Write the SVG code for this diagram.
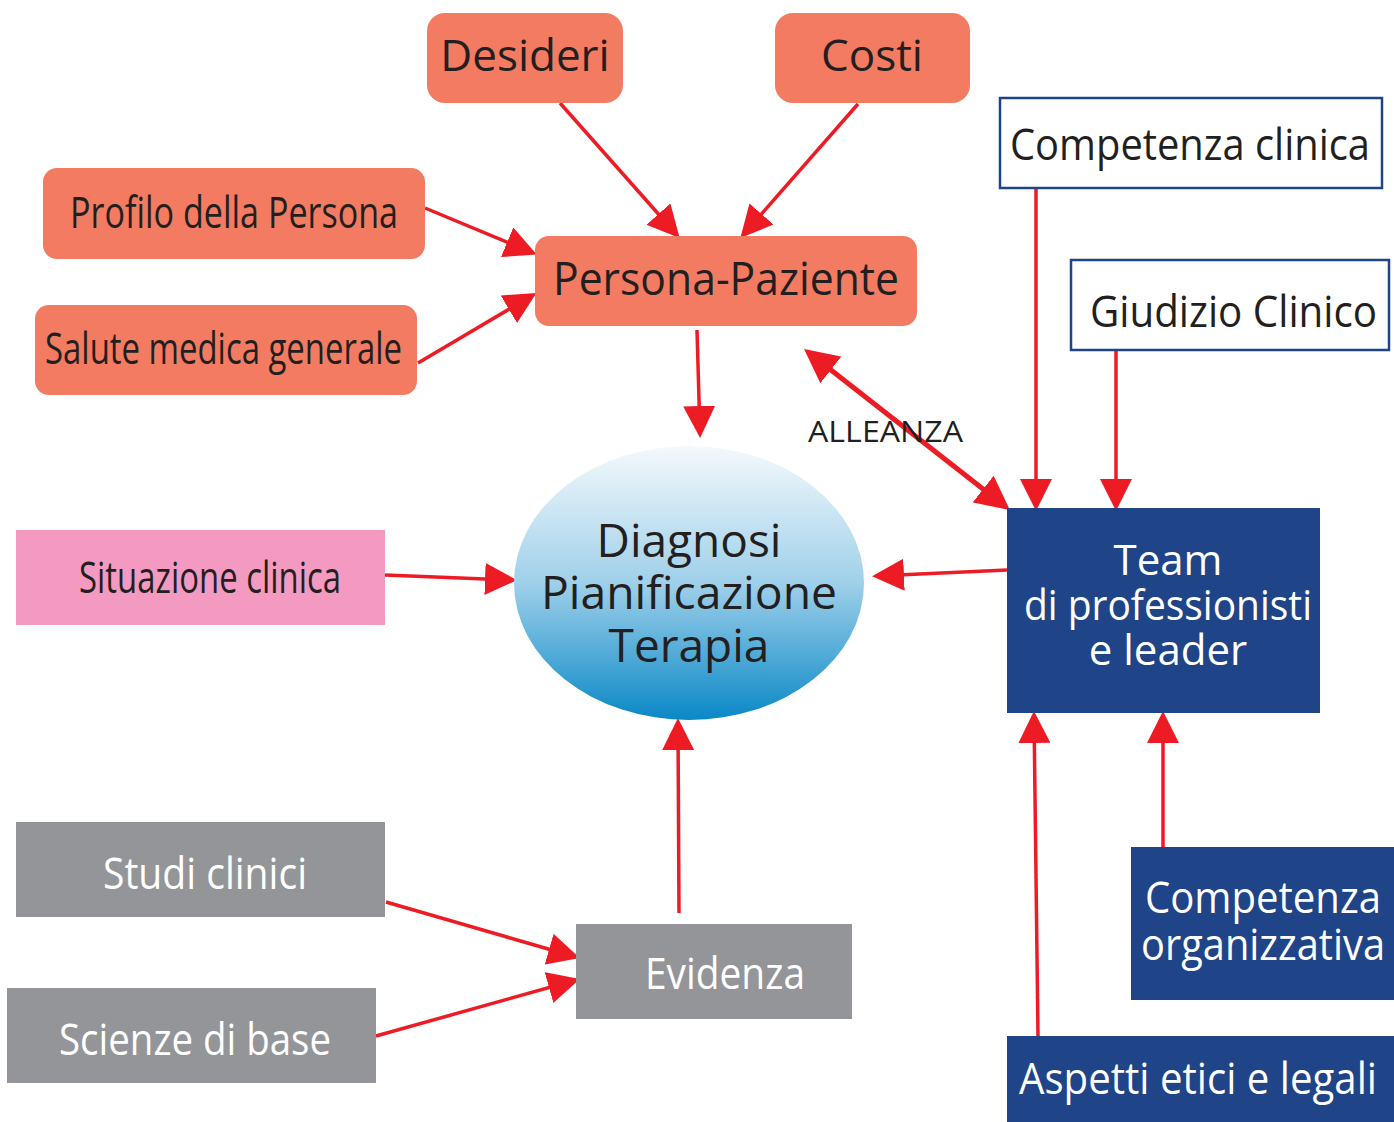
<svg xmlns="http://www.w3.org/2000/svg" width="1394" height="1122" viewBox="0 0 1394 1122">
<defs>
<linearGradient id="eg" x1="0" y1="0" x2="0" y2="1">
<stop offset="0" stop-color="#f4f9fc"/>
<stop offset="0.5" stop-color="#9fd0ea"/>
<stop offset="1" stop-color="#0a88c6"/>
</linearGradient>
<marker id="ah" markerUnits="userSpaceOnUse" markerWidth="32" markerHeight="32" refX="28" refY="16" orient="auto" viewBox="0 0 32 32">
<path d="M0,0 L32,16 L0,32 z" fill="#ed1c24"/>
</marker>
<marker id="ah2" markerUnits="userSpaceOnUse" markerWidth="34" markerHeight="34" refX="29" refY="17" orient="auto-start-reverse" viewBox="0 0 34 34">
<path d="M0,0 L34,17 L0,34 z" fill="#ed1c24"/>
</marker>
<style>
.or{fill:#f27b61}
.gr{fill:#939598}
.bl{fill:#1f4488}
.wb{fill:#fff;stroke:#1f4488;stroke-width:2.5}
.t{font-family:"Open Sans","Noto Sans",sans-serif;fill:#231f20}
.tw{font-family:"Open Sans","Noto Sans",sans-serif;fill:#fff}
.c{stroke:#ed1c24;stroke-width:3.5;fill:none;marker-end:url(#ah)}
</style>
</defs>

<g id="connectors">
<line class="c" x1="560" y1="103" x2="677" y2="235"/>
<line class="c" x1="858" y1="104" x2="743" y2="235"/>
<line class="c" x1="425" y1="208" x2="533" y2="253"/>
<line class="c" x1="418" y1="363" x2="533" y2="295"/>
<line class="c" x1="697" y1="330" x2="700" y2="434"/>
<line x1="808" y1="352" x2="1006" y2="507" stroke="#ed1c24" stroke-width="5" marker-start="url(#ah2)" marker-end="url(#ah2)"/>
<line class="c" x1="385" y1="575" x2="513" y2="580"/>
<line class="c" x1="1007" y1="570" x2="876" y2="576"/>
<line class="c" x1="1036" y1="188" x2="1036" y2="507"/>
<line class="c" x1="1116" y1="350" x2="1116" y2="507"/>
<line class="c" x1="1038" y1="1036" x2="1034" y2="715"/>
<line class="c" x1="1163" y1="847" x2="1163" y2="715"/>
<line class="c" x1="386" y1="902" x2="576" y2="957"/>
<line class="c" x1="376" y1="1036" x2="576" y2="980"/>
<line class="c" x1="679" y1="913" x2="678" y2="722"/>
</g>

<text class="t" x="808" y="442" font-size="30" textLength="155" lengthAdjust="spacingAndGlyphs">ALLEANZA</text>

<g id="desideri">
<rect class="or" x="427" y="13" width="196" height="90" rx="18"/>
<text class="t" x="525" y="71" font-size="44" text-anchor="middle">Desideri</text>
</g>
<g id="costi">
<rect class="or" x="775" y="13" width="195" height="90" rx="18"/>
<text class="t" x="872" y="71" font-size="44" text-anchor="middle">Costi</text>
</g>
<g id="profilo">
<rect class="or" x="43" y="168" width="382" height="91" rx="14"/>
<text class="t" x="70" y="228" font-size="44" textLength="328" lengthAdjust="spacingAndGlyphs">Profilo della Persona</text>
</g>
<g id="salute">
<rect class="or" x="35" y="305" width="382" height="90" rx="14"/>
<text class="t" x="45" y="364" font-size="44" textLength="357" lengthAdjust="spacingAndGlyphs">Salute medica generale</text>
</g>
<g id="persona">
<rect class="or" x="535" y="236" width="382" height="90" rx="14"/>
<text class="t" x="726" y="295" font-size="45" text-anchor="middle" textLength="346" lengthAdjust="spacingAndGlyphs">Persona-Paziente</text>
</g>

<g id="diagnosi">
<ellipse cx="689" cy="583" rx="175" ry="137" fill="url(#eg)"/>
<text class="t" x="689" y="557" font-size="46" text-anchor="middle">Diagnosi</text>
<text class="t" x="689" y="609" font-size="46" text-anchor="middle" textLength="296" lengthAdjust="spacingAndGlyphs">Pianificazione</text>
<text class="t" x="689" y="662" font-size="46" text-anchor="middle">Terapia</text>
</g>

<g id="situazione">
<rect x="16" y="530" width="369" height="95" fill="#f49ac1"/>
<text class="t" x="79" y="593" font-size="44" textLength="262" lengthAdjust="spacingAndGlyphs">Situazione clinica</text>
</g>

<g id="competenza-clinica">
<rect class="wb" x="1000" y="98" width="382" height="90"/>
<text class="t" x="1010" y="160" font-size="44" textLength="360" lengthAdjust="spacingAndGlyphs">Competenza clinica</text>
</g>
<g id="giudizio">
<rect class="wb" x="1071" y="260" width="318" height="90"/>
<text class="t" x="1090" y="327" font-size="44" textLength="287" lengthAdjust="spacingAndGlyphs">Giudizio Clinico</text>
</g>

<g id="team">
<rect class="bl" x="1007" y="508" width="313" height="205"/>
<text class="tw" x="1168" y="575" font-size="42" text-anchor="middle">Team</text>
<text class="tw" x="1168" y="620" font-size="42" text-anchor="middle" textLength="288" lengthAdjust="spacingAndGlyphs">di professionisti</text>
<text class="tw" x="1168" y="665" font-size="42" text-anchor="middle">e leader</text>
</g>

<g id="competenza-org">
<rect class="bl" x="1131" y="847" width="263" height="153"/>
<text class="tw" x="1263" y="913" font-size="44" text-anchor="middle" textLength="236" lengthAdjust="spacingAndGlyphs">Competenza</text>
<text class="tw" x="1263" y="960" font-size="44" text-anchor="middle" textLength="244" lengthAdjust="spacingAndGlyphs">organizzativa</text>
</g>

<g id="aspetti">
<rect class="bl" x="1007" y="1036" width="387" height="86"/>
<text class="tw" x="1019" y="1094" font-size="44" textLength="358" lengthAdjust="spacingAndGlyphs">Aspetti etici e legali</text>
</g>

<g id="studi">
<rect class="gr" x="16" y="822" width="369" height="95"/>
<text class="tw" x="205" y="889" font-size="44" text-anchor="middle" textLength="204" lengthAdjust="spacingAndGlyphs">Studi clinici</text>
</g>
<g id="scienze">
<rect class="gr" x="7" y="988" width="369" height="95"/>
<text class="tw" x="195" y="1055" font-size="44" text-anchor="middle" textLength="272" lengthAdjust="spacingAndGlyphs">Scienze di base</text>
</g>
<g id="evidenza">
<rect class="gr" x="576" y="924" width="276" height="95"/>
<text class="tw" x="725" y="989" font-size="44" text-anchor="middle" textLength="160" lengthAdjust="spacingAndGlyphs">Evidenza</text>
</g>
</svg>
